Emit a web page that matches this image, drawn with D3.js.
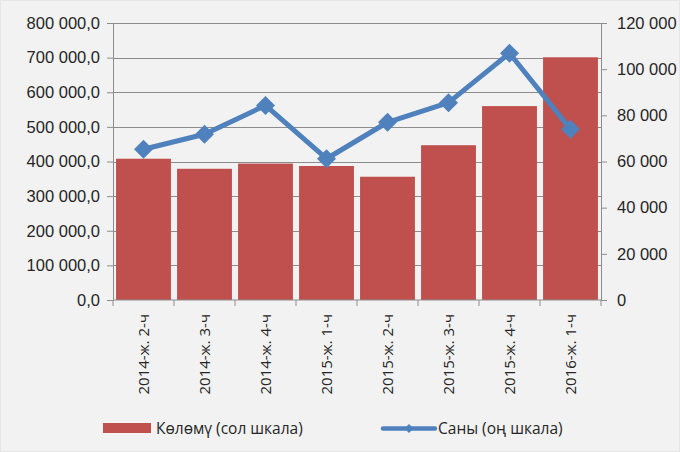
<!DOCTYPE html>
<html>
<head>
<meta charset="utf-8">
<script src="https://cdn.jsdelivr.net/npm/d3@7"></script>
<style>
  body { margin: 0; background: #fff; }
  svg { display: block; font-family: "Open Sans", Lato, sans-serif; }
</style>
</head>
<body>
<svg id="chart" width="680" height="452"></svg>
<script>
// categories and series
const categories = ["2014-ж. 2-ч", "2014-ж. 3-ч", "2014-ж. 4-ч", "2015-ж. 1-ч",
                    "2015-ж. 2-ч", "2015-ж. 3-ч", "2015-ж. 4-ч", "2016-ж. 1-ч"]
const volume = [408000, 379000, 394000, 387000, 356000, 447000, 560000, 701000]
const count = [65300, 71800, 84300, 61200, 77000, 85500, 106900, 74000]
const leftTicks = [0, 100000, 200000, 300000, 400000, 500000, 600000, 700000, 800000]
const rightTicks = [0, 20000, 40000, 60000, 80000, 100000, 120000]
const legendNames = ["Көлөмү (сол шкала)", "Саны (оң шкала)"]

const margin = {top: 23, right: 79, bottom: 152, left: 113}
const width = 680 - margin.left - margin.right
const height = 452 - margin.top - margin.bottom

const red = "#C0504D"
const blue = "#4F81BD"
const grid = "#8c8c8c"
const textColor = "#262626"

const svg = d3.select("#chart")

svg.append("rect")
    .attr("x", 0.5).attr("y", 0.5)
    .attr("width", 679).attr("height", 451)
    .attr("fill", "#f2f2f2")
    .attr("stroke", "#e6e6e6")

const g = svg.append("g")
    .attr("transform", "translate(" + margin.left + "," + margin.top + ")")

const x = d3.scaleBand()
    .domain(categories)
    .range([0, width])
    .paddingInner(0.1)
    .paddingOuter(0.05)

const yL = d3.scaleLinear().domain([0, 800000]).range([height, 0])
const yR = d3.scaleLinear().domain([0, 120000]).range([height, 0])

const fmtL = v => d3.format(",.1f")(v).replace(/,/g, " ").replace(".", ",")
const fmtR = v => d3.format(",")(v).replace(/,/g, " ")

// gridlines
g.append("g")
    .selectAll("line")
    .data(leftTicks.slice(1))
    .enter().append("line")
    .attr("x1", 0).attr("x2", width)
    .attr("y1", d => Math.round(yL(d)) + 0.5)
    .attr("y2", d => Math.round(yL(d)) + 0.5)
    .attr("stroke", grid)

// bars
g.selectAll(".bar")
    .data(volume)
    .enter().append("rect")
    .attr("class", "bar")
    .attr("x", (d, i) => x(categories[i]))
    .attr("width", x.bandwidth())
    .attr("y", d => yL(d))
    .attr("height", d => height - yL(d))
    .attr("fill", red)

// left axis
const leftAxis = g.append("g")
    .call(d3.axisLeft(yL).tickValues(leftTicks).tickFormat(fmtL).tickSize(6).tickPadding(7))
leftAxis.selectAll("line, path").attr("stroke", grid)
leftAxis.selectAll("text").attr("fill", textColor).style("font-size", "16.5px")

// right axis
const rightAxis = g.append("g")
    .attr("transform", "translate(" + width + ",0)")
    .call(d3.axisRight(yR).tickValues(rightTicks).tickFormat(fmtR).tickSize(6).tickPadding(10))
rightAxis.selectAll("line, path").attr("stroke", grid)
rightAxis.selectAll("text").attr("fill", textColor).style("font-size", "16.5px")

// bottom axis with ticks at category boundaries
const bottom = g.append("g").attr("transform", "translate(0," + height + ")")
bottom.append("line")
    .attr("x1", 0).attr("x2", width)
    .attr("stroke", grid)
bottom.selectAll(".btick")
    .data(d3.range(categories.length + 1))
    .enter().append("line")
    .attr("x1", i => i * width / categories.length)
    .attr("x2", i => i * width / categories.length)
    .attr("y1", 0).attr("y2", 6)
    .attr("stroke", grid)
bottom.selectAll(".blabel")
    .data(categories)
    .enter().append("text")
    .attr("transform", d => "translate(" + (x(d) + x.bandwidth() / 2 + 5) + ",14) rotate(-90)")
    .attr("text-anchor", "end")
    .attr("fill", textColor)
    .style("font-size", "15px")
    .text(d => d)

// line series
const line = d3.line()
    .x((d, i) => x(categories[i]) + x.bandwidth() / 2)
    .y(d => yR(d))

g.append("path")
    .datum(count)
    .attr("d", line)
    .attr("fill", "none")
    .attr("stroke", blue)
    .attr("stroke-width", 5)
    .attr("stroke-linejoin", "round")

const diamond = d3.symbol().type(d3.symbolDiamond2).size(230)
g.selectAll(".pt")
    .data(count)
    .enter().append("path")
    .attr("class", "pt")
    .attr("transform", (d, i) => "translate(" + (x(categories[i]) + x.bandwidth() / 2) + "," + yR(d) + ")")
    .attr("d", diamond)
    .attr("fill", blue)

// legend
const legend = svg.append("g")
legend.append("rect")
    .attr("x", 103).attr("y", 423)
    .attr("width", 48).attr("height", 10)
    .attr("fill", red)
legend.append("text")
    .attr("x", 156).attr("y", 434)
    .attr("fill", textColor)
    .style("font-size", "15.5px")
    .text(legendNames[0])
legend.append("line")
    .attr("x1", 383).attr("x2", 435)
    .attr("y1", 428.5).attr("y2", 428.5)
    .attr("stroke", blue).attr("stroke-width", 4.5)
    .attr("stroke-linecap", "round")
legend.append("path")
    .attr("transform", "translate(409,428.5)")
    .attr("d", d3.symbol().type(d3.symbolDiamond2).size(50))
    .attr("fill", blue)
legend.append("text")
    .attr("x", 438).attr("y", 434)
    .attr("fill", textColor)
    .style("font-size", "15.5px")
    .text(legendNames[1])
</script>
</body>
</html>
